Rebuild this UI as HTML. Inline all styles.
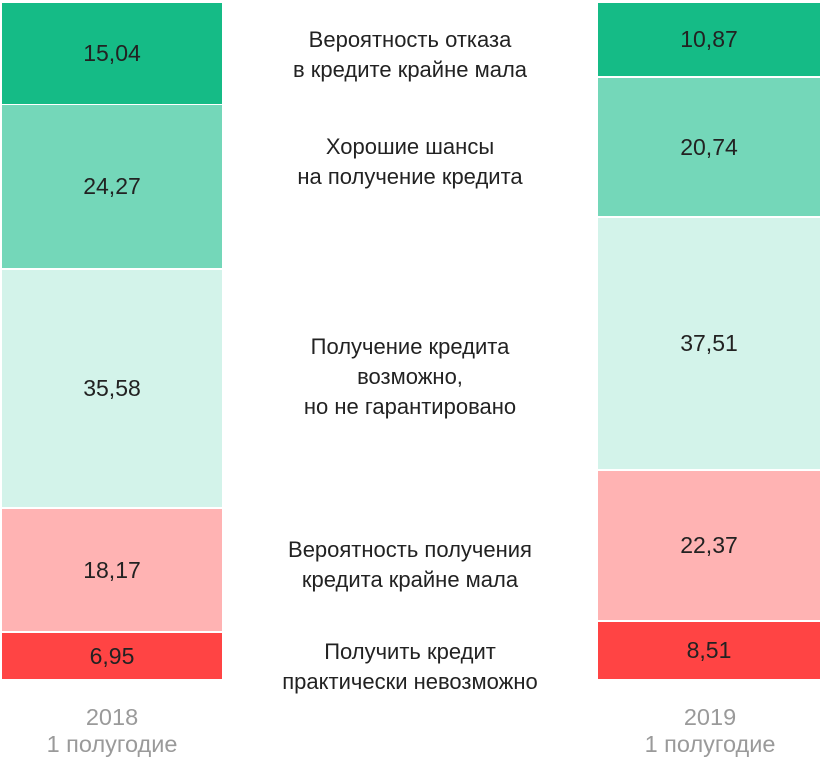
<!DOCTYPE html><html><head><style>
body{margin:0;width:822px;height:762px;background:#fff;font-family:"Liberation Sans",sans-serif;position:relative;overflow:hidden}
.s{position:absolute;display:flex;align-items:center;justify-content:center;font-size:23px;color:#222}
.l{position:absolute;left:210px;width:400px;text-align:center;font-size:22px;line-height:30px;color:#222}
.y{position:absolute;width:220px;text-align:center;font-size:23.5px;line-height:27px;color:#9a9a9a}
</style></head><body>
<div class="s" style="left:2px;width:220px;top:3px;height:101px;background:#15bb86">15,04</div>
<div class="s" style="left:2px;width:220px;top:105px;height:163px;background:#74d7b9">24,27</div>
<div class="s" style="left:2px;width:220px;top:270px;height:237px;background:#d3f3ea">35,58</div>
<div class="s" style="left:2px;width:220px;top:509px;height:122px;background:#ffb3b3">18,17</div>
<div class="s" style="left:2px;width:220px;top:633px;height:46px;background:#ff4444">6,95</div>
<div class="s" style="left:598px;width:222px;top:3px;height:73px;background:#15bb86">10,87</div>
<div class="s" style="left:598px;width:222px;top:78px;height:138px;background:#74d7b9">20,74</div>
<div class="s" style="left:598px;width:222px;top:218px;height:251px;background:#d3f3ea">37,51</div>
<div class="s" style="left:598px;width:222px;top:471px;height:149px;background:#ffb3b3">22,37</div>
<div class="s" style="left:598px;width:222px;top:622px;height:57px;background:#ff4444">8,51</div>
<div class="l" style="top:25px">Вероятность отказа<br>в кредите крайне мала</div>
<div class="l" style="top:132px">Хорошие шансы<br>на получение кредита</div>
<div class="l" style="top:332px">Получение кредита<br>возможно,<br>но не гарантировано</div>
<div class="l" style="top:535px">Вероятность получения<br>кредита крайне мала</div>
<div class="l" style="top:637px">Получить кредит<br>практически невозможно</div>
<div class="y" style="left:2px;top:704px">2018<br>1 полугодие</div>
<div class="y" style="left:600px;top:704px">2019<br>1 полугодие</div>
</body></html>
